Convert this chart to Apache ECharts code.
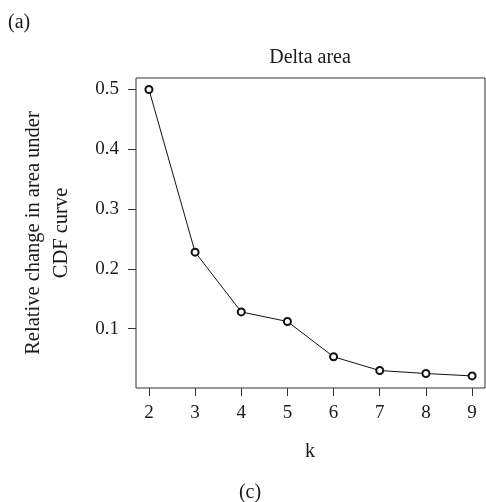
<!DOCTYPE html>
<html>
<head>
<meta charset="utf-8">
<script src="https://cdn.jsdelivr.net/npm/echarts@6/dist/echarts.min.js"></script>
<style>html,body{margin:0;padding:0;background:#fff}#c{width:486px;height:502px}</style>
</head>
<body>
<div id="c"></div>
<script>
const kValues = [2, 3, 4, 5, 6, 7, 8, 9];
const deltaArea = [0.5, 0.228, 0.128, 0.112, 0.053, 0.030, 0.025, 0.021];
const xTicks = [2, 3, 4, 5, 6, 7, 8, 9];
const yTicks = [0.1, 0.2, 0.3, 0.4, 0.5];
const titleText = 'Delta area';
const yName = 'Relative change in area under\nCDF curve';
const xName = 'k';

const FONT = '"Liberation Serif", "DejaVu Serif", serif';
const chart = echarts.init(document.getElementById('c'), null, {renderer: 'canvas'});
chart.setOption({
  animation: false,
  backgroundColor: '#fff',
  grid: {left: 136, top: 78, right: 1, bottom: 114, show: true, borderColor: '#333', borderWidth: 1, backgroundColor: 'transparent'},
  xAxis: {
    type: 'value', min: 1.72, max: 9.28,
    axisLine: {show: false},
    splitLine: {show: false},
    axisTick: {show: true, inside: false, length: 8, customValues: xTicks, lineStyle: {color: '#333', width: 1}},
    axisLabel: {customValues: xTicks, margin: 16, color: '#1a1a1a', fontFamily: FONT, fontSize: 19}
  },
  yAxis: {
    type: 'value', min: 0.0008, max: 0.5192,
    axisLine: {show: false},
    splitLine: {show: false},
    axisTick: {show: true, inside: false, length: 8, customValues: yTicks, lineStyle: {color: '#333', width: 1}},
    axisLabel: {customValues: yTicks, margin: 17, color: '#1a1a1a', fontFamily: FONT, fontSize: 19,
      formatter: v => v.toFixed(1)}
  },
  graphic: [
    {type: 'text', left: 8, top: 13, style: {text: '(a)', font: '20px ' + FONT, fill: '#1a1a1a'}},
    {type: 'text', x: 310, y: 58, style: {text: titleText, font: '20px ' + FONT, fill: '#1a1a1a', textAlign: 'center', textVerticalAlign: 'middle'}},
    {type: 'text', x: 310, y: 452, style: {text: xName, font: '20px ' + FONT, fill: '#1a1a1a', textAlign: 'center', textVerticalAlign: 'middle'}},
    {type: 'text', x: 250, y: 493, style: {text: '(c)', font: '20px ' + FONT, fill: '#1a1a1a', textAlign: 'center', textVerticalAlign: 'middle'}},
    {type: 'text', x: 48, y: 233, rotation: Math.PI / 2,
      style: {text: yName, font: '20.5px ' + FONT, fill: '#1a1a1a', textAlign: 'center', textVerticalAlign: 'middle', lineHeight: 28}}
  ],
  series: [{
    type: 'line',
    data: kValues.map((k, i) => [k, deltaArea[i]]),
    symbol: 'emptyCircle', symbolSize: 7,
    lineStyle: {color: '#111', width: 1},
    itemStyle: {color: '#111', borderColor: '#111', borderWidth: 1.3}
  }]
});
</script>
</body>
</html>
